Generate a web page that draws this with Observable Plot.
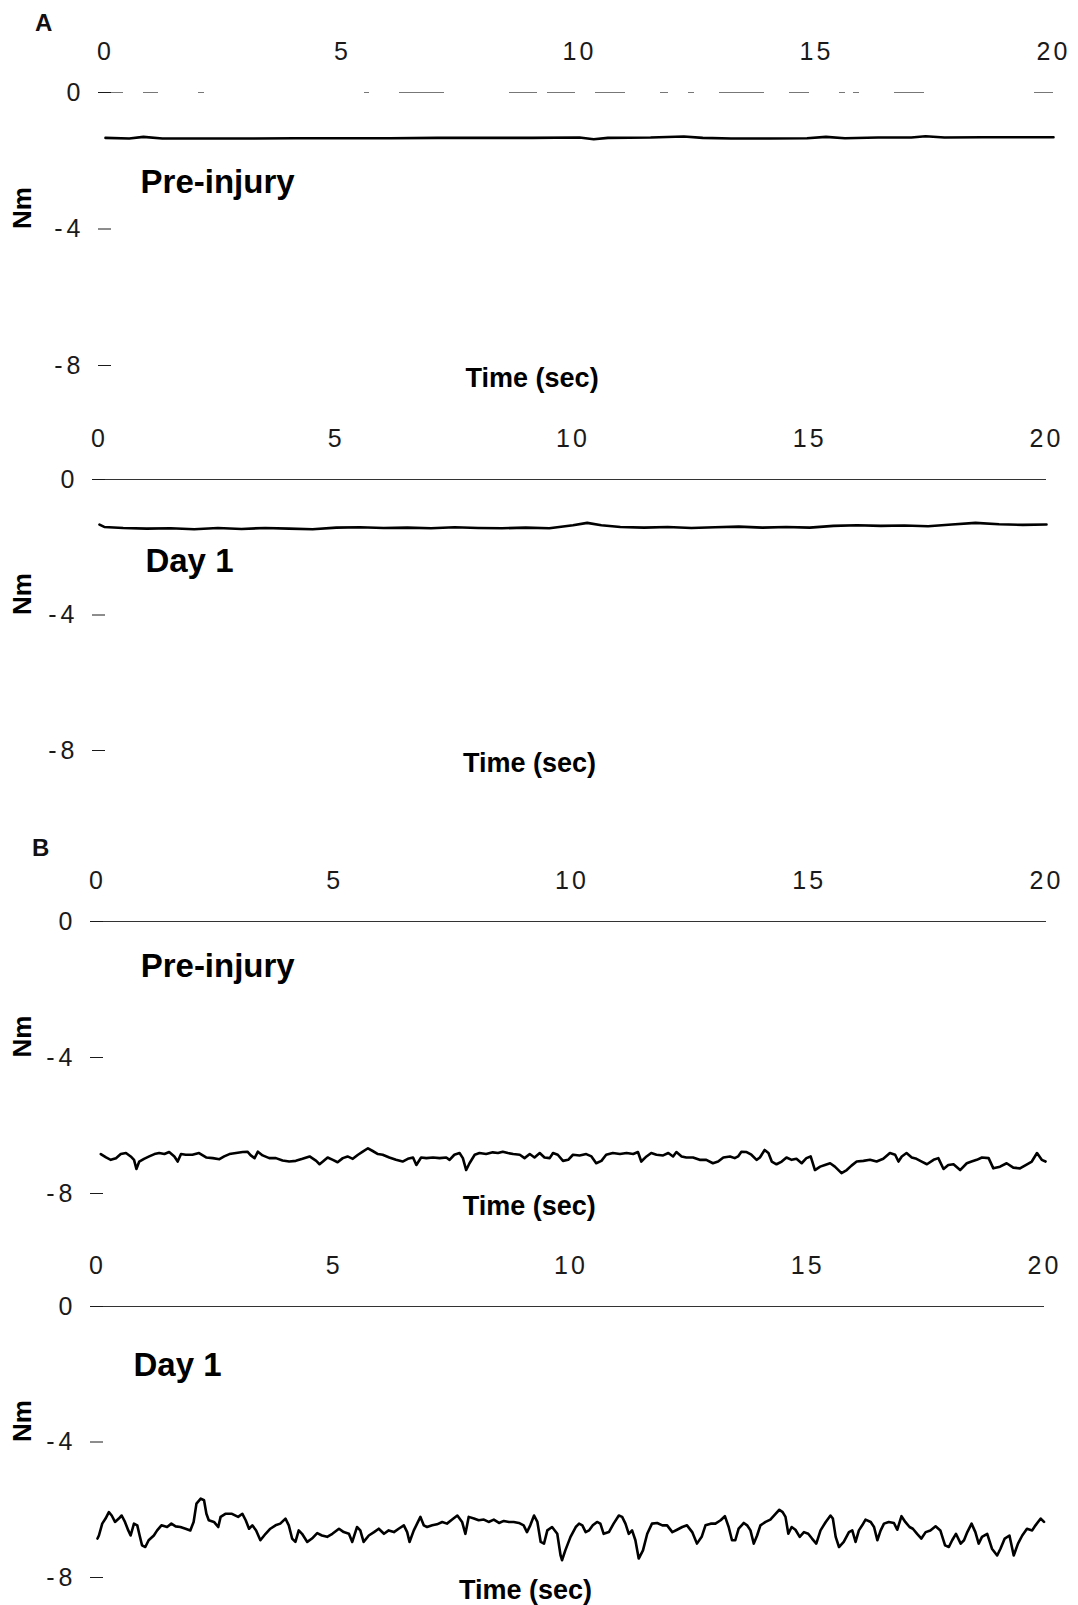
<!DOCTYPE html>
<html>
<head>
<meta charset="utf-8">
<script src="https://cdn.jsdelivr.net/npm/d3@7"></script>
<script src="https://cdn.jsdelivr.net/npm/@observablehq/plot@0.6"></script>
<style>
  html, body { margin: 0; padding: 0; background: #fff; overflow: hidden; }
  #fig { position: relative; width: 1078px; height: 1605px; font-family: "Liberation Sans", Arial, sans-serif; }
  .panel { position: absolute; left: 0; }
  .panel svg { background: transparent; }
  .letter { position: absolute; font-weight: bold; font-size: 24px; line-height: 1; color: #111; }
</style>
</head>
<body>
<div id="fig"></div>
<script>
// Torque traces (Nm) over a 20 s hold, [time in s, torque in Nm]
const xTicks = [0, 5, 10, 15, 20];
const yTicks = [0, -4, -8];

const preInjuryA = [
  [0,-1.33],[0.5,-1.35],[0.8,-1.30],[1.2,-1.35],[2,-1.35],[3,-1.35],[4,-1.34],[5,-1.34],[6,-1.34],
  [7,-1.33],[8,-1.33],[9,-1.33],[10,-1.32],[10.3,-1.37],[10.6,-1.33],[11.5,-1.32],[12.2,-1.29],
  [12.6,-1.33],[13.2,-1.35],[14,-1.35],[14.8,-1.34],[15.2,-1.30],[15.6,-1.34],[16.3,-1.32],[17,-1.32],
  [17.3,-1.28],[17.7,-1.32],[18.5,-1.31],[19.3,-1.31],[20,-1.31]
];

const day1A = [
  [0,-1.33],[0.1,-1.40],[0.5,-1.43],[1,-1.45],[1.5,-1.44],[2,-1.47],[2.5,-1.43],[3,-1.46],[3.5,-1.43],
  [4,-1.45],[4.5,-1.47],[5,-1.42],[5.5,-1.41],[6,-1.43],[6.5,-1.42],[7,-1.44],[7.5,-1.41],[8,-1.43],
  [8.5,-1.44],[9,-1.42],[9.5,-1.44],[10,-1.35],[10.3,-1.28],[10.6,-1.35],[11,-1.40],[11.5,-1.42],
  [12,-1.40],[12.5,-1.43],[13,-1.41],[13.5,-1.39],[14,-1.42],[14.5,-1.40],[15,-1.42],[15.5,-1.37],
  [16,-1.35],[16.5,-1.37],[17,-1.36],[17.5,-1.38],[18,-1.33],[18.5,-1.28],[19,-1.32],[19.5,-1.34],[20,-1.33]
];

const preInjuryB = [
  [0.07,-6.84],[0.18,-6.94],[0.28,-7.01],[0.39,-6.96],[0.49,-6.84],[0.60,-6.81],[0.70,-6.91],[0.77,-7.01],
  [0.82,-7.28],[0.88,-7.06],[0.98,-6.98],[1.09,-6.91],[1.20,-6.84],[1.30,-6.81],[1.41,-6.84],[1.51,-6.78],
  [1.62,-6.91],[1.69,-7.06],[1.76,-6.84],[1.86,-6.86],[2.00,-6.86],[2.14,-6.81],[2.29,-6.94],[2.43,-6.96],
  [2.57,-6.99],[2.67,-6.91],[2.78,-6.84],[2.92,-6.81],[3.06,-6.78],[3.16,-6.77],[3.23,-6.88],[3.31,-6.96],
  [3.38,-6.77],[3.48,-6.88],[3.62,-6.96],[3.76,-6.96],[3.90,-7.03],[4.04,-7.06],[4.18,-7.04],[4.32,-6.98],
  [4.47,-6.91],[4.61,-7.04],[4.68,-7.14],[4.75,-7.06],[4.85,-6.94],[4.96,-7.01],[5.06,-7.08],[5.17,-6.96],
  [5.27,-6.91],[5.38,-6.98],[5.49,-6.86],[5.59,-6.77],[5.70,-6.67],[5.80,-6.75],[5.91,-6.84],[6.01,-6.86],
  [6.15,-6.94],[6.29,-7.01],[6.43,-7.06],[6.54,-6.98],[6.65,-6.94],[6.72,-7.16],[6.82,-6.94],
  [6.93,-6.96],[7.07,-6.94],[7.21,-6.96],[7.35,-6.94],[7.42,-7.01],[7.52,-6.86],[7.63,-6.81],[7.70,-6.96],
  [7.77,-7.31],[7.84,-7.11],[7.95,-6.86],[8.05,-6.81],[8.19,-6.84],[8.33,-6.79],[8.44,-6.81],[8.54,-6.77],
  [8.65,-6.81],[8.76,-6.84],[8.90,-6.86],[9.00,-6.96],[9.11,-6.84],[9.21,-6.94],[9.32,-6.81],[9.42,-6.94],
  [9.53,-6.96],[9.60,-6.81],[9.70,-6.86],[9.81,-7.04],[9.92,-7.01],[10.02,-6.86],[10.16,-6.88],[10.30,-6.84],
  [10.41,-6.91],[10.51,-7.11],[10.62,-7.04],[10.72,-6.86],[10.86,-6.81],[11.01,-6.84],[11.15,-6.81],
  [11.29,-6.84],[11.39,-6.78],[11.46,-7.06],[11.57,-6.91],[11.67,-6.81],[11.78,-6.86],[11.92,-6.88],
  [12.03,-6.81],[12.13,-6.91],[12.20,-6.78],[12.31,-6.91],[12.41,-6.94],[12.55,-6.94],[12.69,-7.01],
  [12.83,-7.01],[12.97,-7.11],[13.08,-7.06],[13.19,-6.94],[13.33,-6.91],[13.43,-6.96],[13.50,-6.91],
  [13.57,-6.77],[13.68,-6.78],[13.78,-6.86],[13.89,-7.01],[13.96,-6.94],[14.06,-6.72],[14.14,-6.81],
  [14.21,-7.06],[14.31,-7.14],[14.42,-7.06],[14.52,-6.94],[14.63,-7.01],[14.73,-6.98],[14.84,-7.11],
  [14.94,-6.96],[15.03,-6.91],[15.12,-7.31],[15.23,-7.21],[15.33,-7.16],[15.44,-7.11],[15.54,-7.21],
  [15.68,-7.40],[15.79,-7.31],[15.89,-7.18],[16.00,-7.06],[16.14,-7.04],[16.28,-7.01],[16.42,-7.06],
  [16.56,-6.98],[16.70,-6.81],[16.81,-6.86],[16.88,-7.06],[16.95,-6.91],[17.05,-6.81],[17.16,-6.94],
  [17.26,-6.98],[17.37,-7.06],[17.48,-7.14],[17.62,-7.01],[17.72,-6.96],[17.83,-7.28],[17.93,-7.16],
  [18.04,-7.14],[18.18,-7.31],[18.32,-7.11],[18.42,-7.06],[18.53,-7.01],[18.64,-6.94],[18.78,-6.96],
  [18.88,-7.26],[19.02,-7.21],[19.16,-7.11],[19.30,-7.24],[19.44,-7.26],[19.59,-7.14],[19.69,-7.06],
  [19.80,-6.81],[19.90,-7.01],[19.98,-7.06]
];

const day1B = [
  [0.00,-6.85],[0.03,-6.76],[0.10,-6.41],[0.17,-6.26],[0.24,-6.07],[0.30,-6.17],[0.37,-6.36],[0.45,-6.26],
  [0.51,-6.17],[0.58,-6.36],[0.65,-6.61],[0.70,-6.76],[0.77,-6.41],[0.84,-6.46],[0.89,-6.76],[0.94,-7.05],
  [1.01,-7.10],[1.08,-6.90],[1.19,-6.76],[1.26,-6.61],[1.35,-6.46],[1.47,-6.51],[1.56,-6.41],[1.65,-6.49],
  [1.75,-6.51],[1.86,-6.56],[1.96,-6.61],[2.03,-6.36],[2.09,-5.82],[2.18,-5.67],[2.25,-5.72],[2.30,-6.12],
  [2.35,-6.31],[2.46,-6.36],[2.55,-6.51],[2.60,-6.21],[2.70,-6.12],[2.84,-6.12],[2.97,-6.21],[3.06,-6.12],
  [3.13,-6.31],[3.20,-6.56],[3.27,-6.46],[3.35,-6.61],[3.44,-6.90],[3.55,-6.71],[3.65,-6.56],[3.76,-6.46],
  [3.86,-6.41],[3.97,-6.26],[4.04,-6.46],[4.11,-6.85],[4.18,-6.95],[4.25,-6.61],[4.32,-6.71],[4.43,-6.95],
  [4.53,-6.85],[4.64,-6.69],[4.74,-6.76],[4.85,-6.80],[4.96,-6.71],[5.10,-6.56],[5.20,-6.66],[5.31,-6.71],
  [5.38,-6.95],[5.48,-6.51],[5.55,-6.61],[5.62,-6.95],[5.73,-6.76],[5.84,-6.66],[5.94,-6.56],[6.05,-6.71],
  [6.15,-6.61],[6.26,-6.66],[6.36,-6.56],[6.47,-6.46],[6.54,-6.66],[6.59,-6.95],[6.68,-6.61],
  [6.75,-6.41],[6.82,-6.21],[6.89,-6.46],[6.96,-6.51],[7.07,-6.46],[7.17,-6.43],[7.28,-6.36],[7.38,-6.41],
  [7.49,-6.29],[7.60,-6.17],[7.70,-6.36],[7.77,-6.71],[7.84,-6.21],[7.95,-6.26],[8.05,-6.31],[8.16,-6.29],
  [8.26,-6.36],[8.37,-6.29],[8.48,-6.39],[8.58,-6.33],[8.69,-6.36],[8.79,-6.36],[8.90,-6.39],[9.00,-6.46],
  [9.07,-6.66],[9.14,-6.46],[9.22,-6.17],[9.29,-6.36],[9.36,-6.95],[9.43,-7.00],[9.50,-6.61],[9.60,-6.51],
  [9.71,-6.71],[9.78,-7.35],[9.81,-7.49],[9.88,-7.20],[9.99,-6.80],[10.10,-6.51],[10.17,-6.41],[10.24,-6.46],
  [10.31,-6.66],[10.38,-6.61],[10.46,-6.46],[10.55,-6.36],[10.62,-6.41],[10.69,-6.71],[10.80,-6.66],
  [10.90,-6.41],[11.01,-6.17],[11.08,-6.21],[11.15,-6.41],[11.22,-6.71],[11.29,-6.61],[11.36,-6.90],
  [11.43,-7.44],[11.52,-7.20],[11.61,-6.71],[11.71,-6.41],[11.82,-6.39],[11.93,-6.46],[12.03,-6.46],
  [12.14,-6.66],[12.24,-6.59],[12.35,-6.51],[12.45,-6.46],[12.56,-6.66],[12.66,-7.00],[12.76,-6.80],
  [12.84,-6.46],[12.95,-6.41],[13.05,-6.41],[13.16,-6.31],[13.25,-6.19],[13.33,-6.51],[13.40,-6.90],
  [13.47,-6.90],[13.54,-6.56],[13.65,-6.39],[13.72,-6.46],[13.79,-6.61],[13.86,-7.00],[13.93,-6.76],
  [14.00,-6.46],[14.11,-6.36],[14.21,-6.29],[14.32,-6.12],[14.40,-6.00],[14.47,-6.07],[14.53,-6.21],
  [14.59,-6.71],[14.66,-6.51],[14.74,-6.59],[14.83,-6.80],[14.92,-6.66],[15.01,-6.71],[15.09,-6.85],
  [15.18,-7.00],[15.27,-6.61],[15.38,-6.36],[15.48,-6.17],[15.53,-6.26],[15.59,-6.80],[15.66,-7.10],
  [15.76,-6.95],[15.87,-6.66],[15.94,-6.61],[16.01,-6.95],[16.08,-6.61],[16.15,-6.46],[16.22,-6.29],
  [16.33,-6.36],[16.40,-6.51],[16.47,-6.90],[16.54,-6.61],[16.61,-6.41],[16.71,-6.36],[16.82,-6.39],
  [16.89,-6.59],[16.98,-6.19],[17.06,-6.36],[17.15,-6.51],[17.22,-6.56],[17.31,-6.71],[17.40,-6.85],
  [17.49,-6.66],[17.59,-6.61],[17.70,-6.49],[17.80,-6.61],[17.90,-7.05],[17.98,-7.10],[18.05,-6.90],
  [18.13,-6.71],[18.23,-7.00],[18.30,-6.90],[18.37,-6.66],[18.46,-6.41],[18.54,-6.66],[18.61,-7.00],
  [18.68,-6.80],[18.79,-6.71],[18.89,-7.15],[19.00,-7.35],[19.07,-7.15],[19.16,-6.85],[19.26,-6.76],
  [19.35,-7.35],[19.44,-7.00],[19.53,-6.76],[19.63,-6.56],[19.74,-6.61],[19.81,-6.46],[19.92,-6.26],
  [19.99,-6.36]
];

const panelTitles = ["Pre-injury", "Day 1", "Pre-injury", "Day 1"];
const panelLetters = [{text: "A", left: 35, top: 11}, {text: "B", left: 32, top: 836}];

// Page layout for the four stacked panels
const FONT = '"Liberation Sans", Arial, Helvetica, sans-serif';
const MT = 60, MB = 30;
const layout = [
  {series: preInjuryA, top: 32,   x0: 105, x20: 1053, span: 273, title: [0.74, -2.64], timeX: 9.0,
   zeroStroke: "#777", zeroDash: "18,20,15,40,6,160,5,30,45,65,28,10,28,20,30,35,8,20,6,25,45,25,20,30,6,8,6,35,30,110,30,45,5,40"},
  {series: day1A,      top: 419,  x0: 99,  x20: 1046, span: 271, title: [0.97, -2.42], timeX: 9.08,
   zeroStroke: "#333", zeroDash: null},
  {series: preInjuryB, top: 861,  x0: 97,  x20: 1046, span: 272, title: [0.91, -1.32], timeX: 9.1,
   zeroStroke: "#333", zeroDash: null},
  {series: day1B,      top: 1246, x0: 97,  x20: 1044, span: 271, title: [0.76, -1.74], timeX: 9.04,
   zeroStroke: "#333", zeroDash: null}
];

const fig = document.getElementById("fig");

layout.forEach((p, i) => {
  const data = p.series.map(([t, v]) => ({t, v}));
  const svg = Plot.plot({
    width: 1078,
    height: MT + p.span + MB,
    marginTop: MT,
    marginBottom: MB,
    marginLeft: p.x0,
    marginRight: 1078 - p.x20,
    style: {fontFamily: FONT, background: "transparent", color: "#111"},
    x: {domain: [0, 20], axis: null, label: null},
    y: {domain: [-8, 0], axis: null, label: null},
    marks: [
      Plot.ruleY([0], {stroke: p.zeroStroke, strokeWidth: 1.1, strokeDasharray: p.zeroDash}),
      Plot.axisX(xTicks, {anchor: "top", label: null, tickSize: 0, tickPadding: 33, fontSize: 25,
        color: "#1a1a1a", tickFormat: d => String(d)}),
      Plot.axisY(yTicks, {anchor: "left", label: null, tickSize: 13, dx: 6, tickPadding: 14, fontSize: 25,
        color: "#1a1a1a", tickFormat: d => d < 0 ? "-" + (-d) : String(d)}),
      Plot.line(data, {x: "t", y: "v", stroke: "#000", strokeWidth: 2.6, strokeLinejoin: "round"}),
      Plot.text([panelTitles[i]], {x: p.title[0], y: p.title[1], textAnchor: "start",
        fontSize: 33, fontWeight: "bold", fill: "#000"}),
      Plot.text(["Time (sec)"], {x: p.timeX, y: -8, dy: 13, fontSize: 27, fontWeight: "bold",
        fill: "#000", ariaLabel: "time label"}),
      Plot.text(["Nm"], {frameAnchor: "left", y: -4, dx: 22 - p.x0, rotate: -90, fontSize: 26,
        fontWeight: "bold", fill: "#000"})
    ]
  });
  const s = d3.select(svg);
  s.selectAll('[aria-label="x-axis tick label"] text').style("letter-spacing", "3px");
  s.selectAll('[aria-label="y-axis tick label"] text').style("letter-spacing", "4px");
  s.selectAll('[aria-label="time label"] text').style("letter-spacing", "1px");

  const holder = document.createElement("div");
  holder.className = "panel";
  holder.style.top = p.top + "px";
  holder.appendChild(svg);
  fig.appendChild(holder);
});

panelLetters.forEach(l => {
  const d = document.createElement("div");
  d.className = "letter";
  d.textContent = l.text;
  d.style.left = l.left + "px";
  d.style.top = l.top + "px";
  fig.appendChild(d);
});
</script>
</body>
</html>
